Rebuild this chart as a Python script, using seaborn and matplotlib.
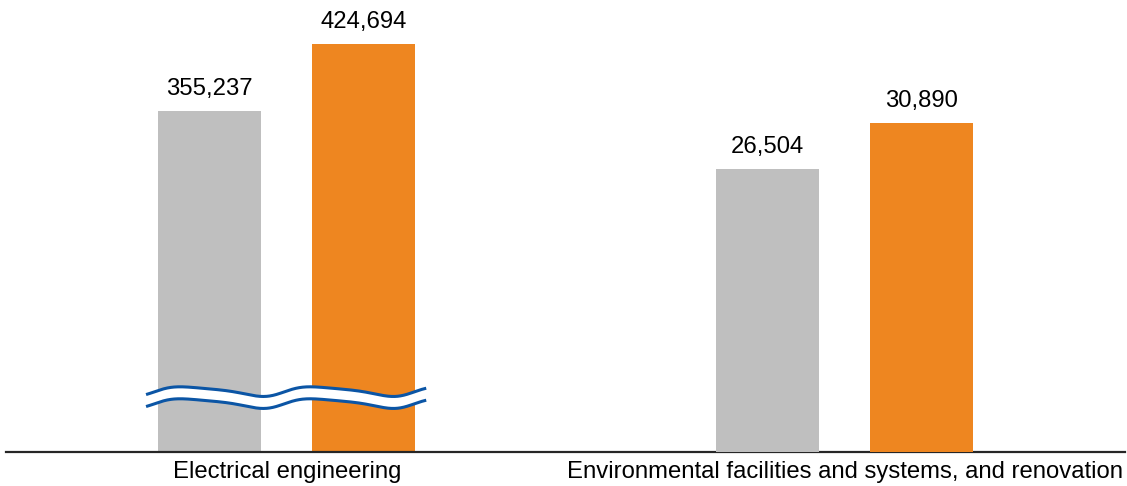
import matplotlib
matplotlib.use("Agg")
import matplotlib.pyplot as plt
import matplotlib.transforms as mtransforms
import numpy as np
import pandas as pd
import seaborn as sns

# ---- data ----
categories = ["Electrical engineering",
              "Environmental facilities and systems, and renovation"]
series = ["Previous", "Current"]
electrical_values = [355237, 424694]
environmental_values = [26504, 30890]
series_colors = ["#BFBFBF", "#EE8620"]

sns.set_theme(style="white")
plt.rcParams['font.family'] = ['Liberation Sans', 'DejaVu Sans']

df = pd.DataFrame({
    "category": [categories[0]] * 2 + [categories[1]] * 2,
    "series": series * 2,
    "value": electrical_values + environmental_values,
})
palette = dict(zip(series, series_colors))

fig = plt.figure(figsize=(11.27, 4.86), dpi=100)
ax_left = fig.add_axes([0.0053, 0.07, 0.9929, 0.93])
ax_right = ax_left.twinx()

common = dict(x="category", y="value", hue="series", order=categories,
              hue_order=series, palette=palette, width=0.552, gap=0.33,
              errorbar=None, legend=False, saturation=1, linewidth=0,
              edgecolor="none")
sns.barplot(data=df[df["category"] == categories[0]], ax=ax_left, **common)
sns.barplot(data=df[df["category"] == categories[1]], ax=ax_right, **common)

# broken (compressed) scale for the large category, true scale for the small one
ax_left.set_ylim(0, 470700)
ax_right.set_ylim(0, 42400)
FS = 17.2
for ax in (ax_left, ax_right):
    ax.set_xlim(-0.503, 1.502)
    ax.set_yticks([])
    ax.set_ylabel("")
    ax.set_xlabel("")
    for s in ("top", "left", "right"):
        ax.spines[s].set_visible(False)
    for c in ax.containers:
        ax.bar_label(c, fmt="{:,.0f}", padding=8, fontsize=FS, color="black")
ax_right.spines["bottom"].set_visible(False)
ax_right.xaxis.set_visible(False)

ax_left.spines["bottom"].set_color("#262626")
ax_left.spines["bottom"].set_linewidth(1.6)
ax_left.tick_params(axis="x", length=0, pad=6.5, labelsize=FS, labelcolor="black")

# break symbol (decoration) across the first group
trans = mtransforms.blended_transform_factory(ax_right.transData, ax_right.transAxes)
xs = np.linspace(-0.252, 0.250, 500)
period = 0.233
u = 2 * np.pi * (xs - (-0.191)) / period
phi = u - 1.07 * np.sin(u / 2) ** 2
wave = 0.0107 * np.cos(phi)
upper = 0.1335 + wave
lower = 0.1070 + wave
ax_right.fill_between(xs, lower, upper, color="white", transform=trans, zorder=5, lw=0)
ax_right.plot(xs, upper, color="#0B55A5", lw=2.2, transform=trans, zorder=6,
              solid_capstyle="butt", clip_on=False)
ax_right.plot(xs, lower, color="#0B55A5", lw=2.2, transform=trans, zorder=6,
              solid_capstyle="butt", clip_on=False)

fig.savefig("out.png", dpi=100)
